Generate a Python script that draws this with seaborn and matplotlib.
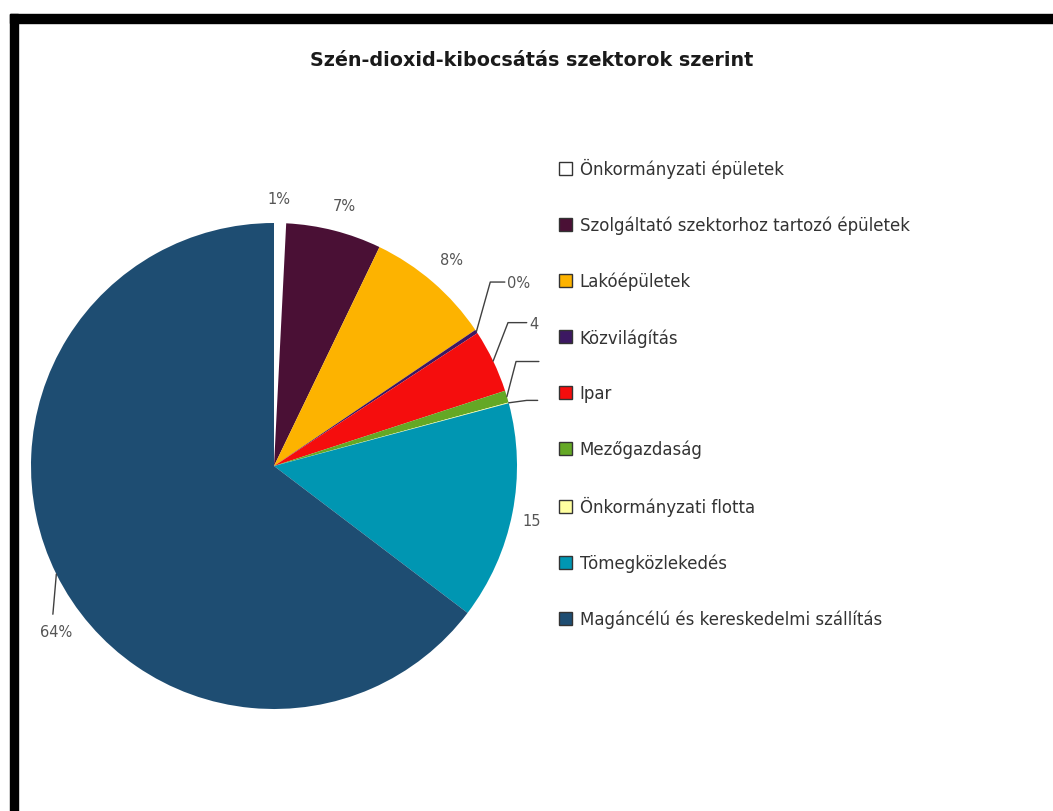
import matplotlib
matplotlib.use("Agg")
import matplotlib.pyplot as plt
from matplotlib.patches import Patch, Rectangle
import numpy as np
import seaborn as sns

# sectors, in clockwise order starting at 12 o'clock
sectors = [
    "Önkormányzati épületek",
    "Szolgáltató szektorhoz tartozó épületek",
    "Lakóépületek",
    "Közvilágítás",
    "Ipar",
    "Mezőgazdaság",
    "Önkormányzati flotta",
    "Tömegközlekedés",
    "Magáncélú és kereskedelmi szállítás",
]
shares = [0.8, 6.35, 8.4, 0.25, 4.2, 0.8, 0.05, 14.5, 64.7]
# labels as printed on the chart (some are cut off in the original)
pct_labels = ["1%", "7%", "8%", "0%", "4", "", "", "15", "64%"]
colors = ["#FFFFFF", "#4A1035", "#FDB300", "#3C1862", "#F50D0D",
          "#64A825", "#FFFFA0", "#0096B2", "#1E4D72"]

sns.set_theme(style="white")
plt.rcParams["font.family"] = ["DejaVu Sans"]

W, H = 1053, 812
fig = plt.figure(figsize=(W / 100, H / 100), dpi=100)
fig.patch.set_facecolor("white")

# pie: centre (274, 467) px, radius 243 px
cx, cy, R = 274, 467, 243
ax = fig.add_axes([(cx - R) / W, (H - cy - R) / H, 2 * R / W, 2 * R / H])
wedges, _ = ax.pie(shares, colors=colors, startangle=90, counterclock=False,
                   radius=1.0, wedgeprops=dict(linewidth=0))
ax.set_xlim(-1, 1)
ax.set_ylim(-1, 1)
ax.set_aspect("equal")
ax.axis("off")

lbl_color = "#555555"
# placement per slice: (text x, text y, leader) in data units
# leader = (elbow x, elbow y, line end x) or None for a plain label
place = [
    (0.02, 1.10, None),
    (0.29, 1.07, None),
    (0.73, 0.85, None),
    (0.96, 0.757, (0.89, 0.757, 0.95)),
    (1.05, 0.585, (0.963, 0.59, 1.04)),
    (1.10, 0.43, (0.996, 0.43, 1.09)),
    (1.10, 0.27, (1.04, 0.27, 1.085)),
    (1.06, -0.225, None),
    (-0.895, -0.68, (-0.91, -0.61, None)),
]

for w, txt, p in zip(wedges, pct_labels, place):
    tx, ty, lead = p
    mid = np.deg2rad((w.theta1 + w.theta2) / 2)
    ax_, ay_ = np.cos(mid), np.sin(mid)
    ha = "center"
    if lead is not None:
        ex, ey, endx = lead
        xs = [ax_, ex] + ([endx] if endx is not None else [])
        ys = [ay_, ey] + ([ey] if endx is not None else [])
        ax.plot(xs, ys, color="#404040", lw=1.0, clip_on=False)
        if endx is not None:
            ha = "left"
    ax.text(tx, ty, txt, ha=ha, va="center", fontsize=10.5,
            color=lbl_color, clip_on=False)

fig.text(532 / W, 1 - 60 / H, "Szén-dioxid-kibocsátás szektorok szerint",
         ha="center", va="center", fontsize=13.8, fontweight="bold",
         color="#1a1a1a")

handles = [Patch(facecolor=c, edgecolor="#333333", linewidth=1.0) for c in colors]
fig.legend(handles, sectors, loc="upper left",
           bbox_to_anchor=(559 / W, 1 - 159 / H), frameon=False,
           fontsize=12, labelcolor="#333333", handlelength=0.8,
           handleheight=0.8, handletextpad=0.45, labelspacing=2.26,
           borderpad=0, borderaxespad=0)

# black frame on left and top
fig.patches.append(Rectangle((10 / W, 0), 8 / W, 1 - 15 / H,
                             transform=fig.transFigure, color="black"))
fig.patches.append(Rectangle((10 / W, 1 - 24 / H), 1 - 10 / W, 9 / H,
                             transform=fig.transFigure, color="black"))

fig.savefig("out.png", dpi=100, facecolor="white")
